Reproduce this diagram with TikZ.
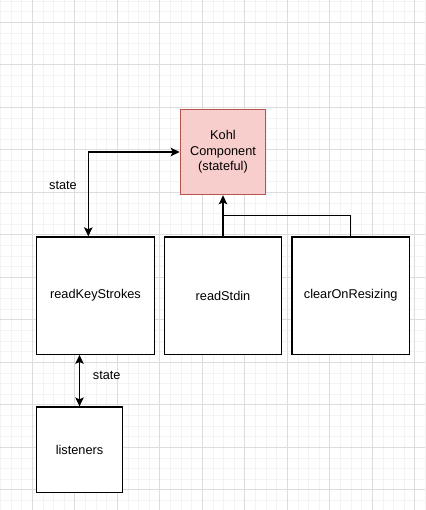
\documentclass[tikz,border=0pt]{standalone}
\usepackage{fontspec}
\setmainfont{Liberation Sans}
\usetikzlibrary{arrows.meta}
\definecolor{gridminor}{HTML}{F3F3F3}
\definecolor{gridmajor}{HTML}{DDDDDD}
\definecolor{kohlfill}{HTML}{F8CECC}
\definecolor{kohldraw}{HTML}{B85450}
\tikzset{
  blockbox/.style={draw=black, line width=1.2pt, fill=white, minimum width=#1, minimum height=#1, inner sep=0pt, align=center, font=\fontsize{12.75pt}{15.3pt}\selectfont},
  kohlbox/.style={blockbox=85.4pt, fill=kohlfill, draw=kohldraw},
  conn/.style={line width=1.2pt, draw=black},
  tip/.style={-{Stealth[length=9pt,width=8.5pt,inset=2pt]}},
  bothtip/.style={{Stealth[length=9pt,width=8.5pt,inset=2pt]}-{Stealth[length=9pt,width=8.5pt,inset=2pt]}},
  lbl/.style={font=\fontsize{12.75pt}{15.3pt}\selectfont, inner sep=0pt}
}
\begin{document}
\begin{tikzpicture}[x=1pt,y=-1pt]
\useasboundingbox (0,0) rectangle (425,510);
\fill[white] (0,0) rectangle (425,510);
% minor grid
\foreach \i in {0,...,40} {
  \draw[gridminor, line width=0.8pt] ({0.425+\i*10.625},0) -- ({0.425+\i*10.625},510);
}
\foreach \i in {0,...,48} {
  \draw[gridminor, line width=0.8pt] (0,{1.05+\i*10.625}) -- (425,{1.05+\i*10.625});
}
% major grid
\foreach \i in {0,...,9} {
  \draw[gridmajor, line width=0.8pt] ({32.3+\i*42.5},0) -- ({32.3+\i*42.5},510);
}
\foreach \i in {0,...,11} {
  \draw[gridmajor, line width=0.8pt] (0,{22.3+\i*42.5}) -- (425,{22.3+\i*42.5});
}
% nodes
\node[kohlbox] (kohl) at (223,152) {Kohl\\Component\\(stateful)};
\node[blockbox=117.4pt] (rks) at (95.5,295.6) {readKeyStrokes};
\node[blockbox=117.4pt] (rs) at (223,295.6) {readStdin};
\node[blockbox=117.4pt] (cor) at (350.7,295.6) {clearOnResizing};
\node[blockbox=85.5pt] (lis) at (79.5,449.7) {listeners};
\coordinate (rksTop) at ([xshift=-7.2pt]rks.north);
\coordinate (join) at (223,215.7);
% connectors
\draw[conn,bothtip] (rksTop) |- (kohl.west);
\draw[conn,tip] (rs.north) -- (kohl.south);
\draw[conn] (cor.north) |- (join);
\draw[conn,bothtip] (lis.north |- rks.south) -- (lis.north);
% labels
\node[lbl] (state1) at (63,185) {state};
\node[lbl] (state2) at (106.7,375.7) {state};
\end{tikzpicture}
\end{document}
